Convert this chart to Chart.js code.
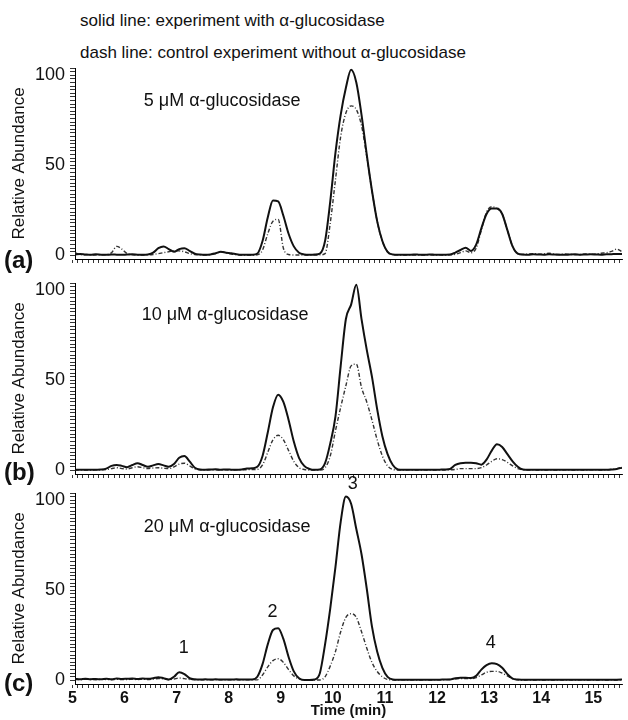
<!DOCTYPE html>
<html>
<head>
<meta charset="utf-8">
<script src="https://cdn.jsdelivr.net/npm/chart.js@4.4.0/dist/chart.umd.min.js"></script>
<style>
  body { margin: 0; background: #fff; width: 628px; height: 720px; position: relative; overflow: hidden;
         font-family: "Liberation Sans", Arial, sans-serif; color: #111; }
  canvas { position: absolute; left: 0; }
  .note { position: absolute; left: 80px; font-size: 17px; white-space: nowrap; }
  .tag { position: absolute; left: 4px; font-size: 24px; font-weight: bold; }
</style>
</head>
<body>
<div class="note" style="top:11px">solid line: experiment with α-glucosidase</div>
<div class="note" style="top:43px">dash line: control experiment without α-glucosidase</div>

<canvas id="chartA" width="628" height="205" style="top:60px"></canvas>
<canvas id="chartB" width="628" height="205" style="top:275px"></canvas>
<canvas id="chartC" width="628" height="255" style="top:465px"></canvas>

<div class="tag" style="top:246px">(a)</div>
<div class="tag" style="top:458px">(b)</div>
<div class="tag" style="top:669px">(c)</div>

<script>
// retention time (min)
const times = [
  5.05, 5.15, 5.25, 5.35, 5.45, 5.55, 5.65, 5.75, 5.85, 5.95,
  6.05, 6.15, 6.25, 6.35, 6.45, 6.55, 6.65, 6.75, 6.85, 6.95,
  7.05, 7.15, 7.25, 7.35, 7.45, 7.55, 7.65, 7.75, 7.85, 7.95,
  8.05, 8.15, 8.25, 8.35, 8.45, 8.55, 8.65, 8.75, 8.85, 8.95,
  9.05, 9.15, 9.25, 9.35, 9.45, 9.55, 9.65, 9.75, 9.85, 9.95,
  10.05, 10.15, 10.25, 10.35, 10.45, 10.55, 10.65, 10.75, 10.85, 10.95,
  11.05, 11.15, 11.25, 11.35, 11.45, 11.55, 11.65, 11.75, 11.85, 11.95,
  12.05, 12.15, 12.25, 12.35, 12.45, 12.55, 12.65, 12.75, 12.85, 12.95,
  13.05, 13.15, 13.25, 13.35, 13.45, 13.55, 13.65, 13.75, 13.85, 13.95,
  14.05, 14.15, 14.25, 14.35, 14.45, 14.55, 14.65, 14.75, 14.85, 14.95,
  15.05, 15.15, 15.25, 15.35, 15.45, 15.55
];

// (a) 5 uM
const solidA = [
  0.5, 0.8, 0.5, 0.3, 0.6, 0.4, 0.3, 0.5, 0.4, 0.3,
  0.5, 0.6, 0.4, 0.3, 0.5, 1.5, 4, 5, 3.5, 2,
  3.5, 4, 2.5, 1, 0.5, 0.3, 0.5, 1.2, 2, 1.5,
  1.2, 0.6, 0.3, 0.3, 0.4, 1, 8, 21, 30.5, 30,
  22, 12, 5, 1.5, 0.5, 0.3, 0.5, 1, 8, 30,
  57, 78, 93, 103, 96, 78, 56, 36, 19, 8,
  2, 0.5, 0.3, 0.4, 0.3, 0.5, 0.4, 0.3, 0.5, 0.4,
  0.3, 0.4, 0.5, 1.5, 3, 4.2, 2.5, 6, 15, 23,
  26, 26, 23, 14, 5, 1, 0.5, 0.4, 0.6, 0.5,
  0.4, 0.6, 0.5, 0.4, 0.3, 0.5, 0.6, 0.4, 0.5, 0.6,
  0.5, 0.4, 0.6, 0.7, 0.8, 0.8
];
const dashA = [
  1.5, 0.5, 0.3, 0.3, 0.2, 0.3, 0.4, 1.5, 5, 3.5,
  1, 0.3, 0.2, 0.2, 0.3, 0.5, 1, 1.5, 2, 2.5,
  2.5, 2, 1, 0.5, 0.3, 0.2, 0.4, 1, 2, 1.5,
  0.8, 0.4, 0.2, 0.2, 0.2, 0.3, 3, 12, 19, 20,
  4, 0.5, 0.2, 0.2, 0.2, 0.2, 0.2, 0.3, 1, 18,
  42, 66, 79, 83, 81, 72, 55, 36, 19, 8,
  2, 0.5, 0.3, 0.2, 0.3, 0.2, 0.3, 0.2, 0.3, 0.2,
  0.3, 0.2, 0.3, 0.6, 1.5, 2.5, 1.5, 4, 14, 24,
  27, 26, 23, 14, 5, 1, 0.5, 0.8, 1, 0.6,
  0.8, 1.2, 0.6, 0.5, 0.8, 0.6, 0.4, 0.5, 0.8, 0.6,
  0.8, 1.2, 1.5, 2.2, 3.5, 2
];

// (b) 10 uM
const solidB = [
  0.3, 0.4, 0.3, 0.3, 0.4, 0.5, 1, 2.5, 3, 2.5,
  1.8, 3, 4, 3, 2, 2.8, 3.5, 2.8, 2, 3.5,
  7, 8, 5, 1.5, 0.5, 0.4, 0.5, 0.6, 0.4, 0.5,
  0.4, 0.3, 0.5, 1, 1.2, 2, 8, 21, 35, 42,
  38, 28, 16, 7, 2.5, 0.8, 0.3, 0.5, 4, 15,
  30, 58, 84, 92, 103, 84, 67, 52, 34, 19,
  9, 3, 0.5, 0.3, 0.4, 0.3, 0.3, 0.4, 0.3, 0.3,
  0.4, 0.5, 0.8, 3, 4, 4.2, 4.2, 4, 3.2, 6,
  11, 14.5, 13, 9, 5, 2, 0.5, 0.3, 0.4, 0.3,
  0.3, 0.4, 0.3, 0.3, 0.4, 0.3, 0.3, 0.4, 0.3, 0.3,
  0.3, 0.4, 0.3, 0.5, 0.8, 1.5
];
const dashB = [
  0.2, 0.3, 0.2, 0.2, 0.3, 0.3, 0.5, 1, 1.5, 1,
  0.8, 1.5, 2, 1.5, 1, 1.3, 1.5, 1.2, 1, 2,
  3.5, 4, 2.5, 0.8, 0.3, 0.2, 0.3, 0.3, 0.2, 0.3,
  0.2, 0.3, 0.3, 0.4, 0.5, 0.6, 3, 10, 17, 19.5,
  17, 11, 5, 1.5, 0.5, 0.2, 0.2, 0.2, 1.5, 8,
  22, 35, 47, 58, 59, 46, 38, 28, 17, 8,
  2.5, 0.5, 0.2, 0.2, 0.3, 0.2, 0.2, 0.3, 0.2, 0.2,
  0.3, 0.2, 0.3, 0.5, 1, 1, 1, 1, 1.5, 3,
  5, 6.5, 6, 4.5, 2.5, 1, 0.3, 0.2, 0.3, 0.2,
  0.2, 0.3, 0.2, 0.2, 0.3, 0.2, 0.2, 0.3, 0.2, 0.3,
  0.3, 0.2, 0.3, 0.5, 1, 1.8
];

// (c) 20 uM
const solidC = [
  0.8, 0.6, 0.9, 0.7, 0.8, 0.6, 0.9, 0.7, 1, 0.8,
  0.9, 1, 0.8, 1, 0.9, 1.2, 1.8, 1.2, 0.5, 2,
  4.5, 3.5, 1.2, 0.6, 0.5, 0.6, 0.5, 0.6, 0.5, 0.5,
  0.5, 0.6, 0.5, 0.5, 0.5, 2, 9, 20, 28, 29,
  23, 13, 5, 1.2, 0.2, 0.2, 0.5, 4, 20, 40,
  63, 88, 102, 98, 84, 70, 51, 30, 16, 7,
  2, 0.5, 0.3, 0.4, 0.3, 0.4, 0.3, 0.4, 0.3, 0.4,
  0.4, 0.5, 0.5, 1.2, 1.5, 1.5, 1.3, 2.5, 6, 8.5,
  9.5, 9, 7, 3.5, 1, 0.5, 0.4, 0.3, 0.4, 0.3,
  0.4, 0.3, 0.4, 0.3, 0.4, 0.3, 0.4, 0.3, 0.4, 0.3,
  0.4, 0.3, 0.4, 0.3, 0.4, 0.5
];
const dashC = [
  0.5, 0.4, 0.6, 0.5, 0.4, 0.6, 0.5, 0.4, 0.6, 0.5,
  0.5, 0.6, 0.5, 0.6, 0.5, 0.8, 1, 0.8, 0.4, 0.8,
  1.3, 1, 0.5, 0.4, 0.3, 0.4, 0.3, 0.4, 0.3, 0.3,
  0.3, 0.4, 0.3, 0.3, 0.3, 0.3, 3, 7.5, 11, 12,
  10, 6, 2.5, 0.8, 0.3, 0.2, 0.2, 0.2, 2, 8,
  16, 27, 35, 37, 35, 27, 18, 10, 5, 2,
  0.5, 0.3, 0.2, 0.3, 0.2, 0.3, 0.2, 0.3, 0.2, 0.3,
  0.3, 0.4, 0.5, 0.8, 1, 1, 1, 1.5, 3, 4.5,
  5, 5, 4, 2.5, 1, 0.3, 0.2, 0.3, 0.2, 0.3,
  0.2, 0.3, 0.2, 0.3, 0.2, 0.3, 0.2, 0.3, 0.2, 0.3,
  0.2, 0.3, 0.2, 0.3, 0.2, 0.3
];

const xTickLabels = [5, 6, 7, 8, 9, 10, 11, 12, 13, 14, 15];
const yTickLabels = [0, 50, 100];

const conditionLabels = ['5 μM α-glucosidase', '10 μM α-glucosidase', '20 μM α-glucosidase'];
const peakNames = ['1', '2', '3', '4'];
const peakTimes = [7.14, 8.84, 10.38, 13.03];
const peakHeights = [18, 38, 109, 20.5];

const FONT = '"Liberation Sans", Arial, sans-serif';

// minor tick positions
let xMinor = [];
for (let i = 0; i <= 105; i++) xMinor.push(Math.round(50 + i) / 10);
let yMinor = [];
for (let v = 0; v <= 104; v += 2) yMinor.push(v);

const panelText = {
    id: 'panelText',
    afterDraw(chart, args, opts) {
        const {ctx, scales: {x, y}} = chart;
        ctx.save();
        ctx.fillStyle = '#111';
        ctx.font = '18px ' + FONT;
        ctx.textBaseline = 'middle';
        opts.labels.forEach(l => {
            ctx.textAlign = l.align;
            ctx.fillText(l.text, x.getPixelForValue(l.x), y.getPixelForValue(l.y));
        });
        ctx.restore();
    }
};

function pts(vals) {
    return times.map((t, i) => ({x: t, y: vals[i]}));
}

function makePanel(id, solid, dash, labels, padTop, xHeight, last) {
    return new Chart(document.getElementById(id), {
        type: 'line',
        data: {
            datasets: [{
                data: pts(solid),
                borderColor: '#111',
                borderWidth: 2,
                pointRadius: 0,
                cubicInterpolationMode: 'monotone'
            }, {
                data: pts(dash),
                borderColor: '#333',
                borderWidth: 1.4,
                borderDash: [4, 2, 1, 2],
                pointRadius: 0,
                cubicInterpolationMode: 'monotone'
            }]
        },
        options: {
            responsive: false,
            animation: false,
            layout: { padding: { top: padTop, left: 0, right: 6, bottom: 0 } },
            plugins: {
                legend: { display: false },
                tooltip: { enabled: false },
                panelText: { labels: labels }
            },
            scales: {
                x: {
                    type: 'linear',
                    min: 5.05,
                    max: 15.55,
                    afterFit: s => {
                        s.height = xHeight;
                        s.paddingLeft = 0;
                        s.paddingRight = 0;
                    },
                    afterBuildTicks: s => { s.ticks = xMinor.map(v => ({value: v})); },
                    border: { color: '#000', width: 1 },
                    grid: { drawOnChartArea: false, color: '#000', tickLength: 4, lineWidth: 0.8 },
                    ticks: {
                        display: last,
                        autoSkip: false,
                        maxRotation: 0,
                        padding: 1,
                        color: '#111',
                        font: { size: 16, weight: 'bold', family: FONT },
                        callback: v => xTickLabels.includes(v) ? String(v) : ''
                    },
                    title: {
                        display: last,
                        text: 'Time (min)',
                        color: '#111',
                        font: { size: 15, weight: 'bold', family: FONT },
                        padding: { top: 0, bottom: 0 }
                    }
                },
                y: {
                    min: -2,
                    max: 104,
                    afterFit: s => {
                        s.width = 75;
                        s.paddingTop = 0;
                        s.paddingBottom = 0;
                    },
                    afterBuildTicks: s => { s.ticks = yMinor.map(v => ({value: v})); },
                    border: { color: '#000', width: 1 },
                    grid: { drawOnChartArea: false, color: '#000', tickLength: 5, lineWidth: 0.8 },
                    ticks: {
                        autoSkip: false,
                        padding: 5,
                        color: '#111',
                        font: { size: 18, family: FONT },
                        callback: v => yTickLabels.includes(v) ? String(v) : ''
                    },
                    title: {
                        display: true,
                        text: 'Relative Abundance',
                        color: '#111',
                        font: { size: 17, family: FONT },
                        padding: { top: 9, bottom: 0 }
                    }
                }
            }
        },
        plugins: [panelText]
    });
}

makePanel('chartA', solidA, dashA,
    [{text: conditionLabels[0], x: 6.37, y: 85.5, align: 'left'}], 8, 6, false);
makePanel('chartB', solidB, dashB,
    [{text: conditionLabels[1], x: 6.33, y: 86, align: 'left'}], 8, 6, false);
makePanel('chartC', solidC, dashC,
    [{text: conditionLabels[2], x: 6.37, y: 85, align: 'left'}].concat(
        peakNames.map((n, i) => ({text: n, x: peakTimes[i], y: peakHeights[i], align: 'center'}))),
    28, 36, true);
</script>
</body>
</html>
